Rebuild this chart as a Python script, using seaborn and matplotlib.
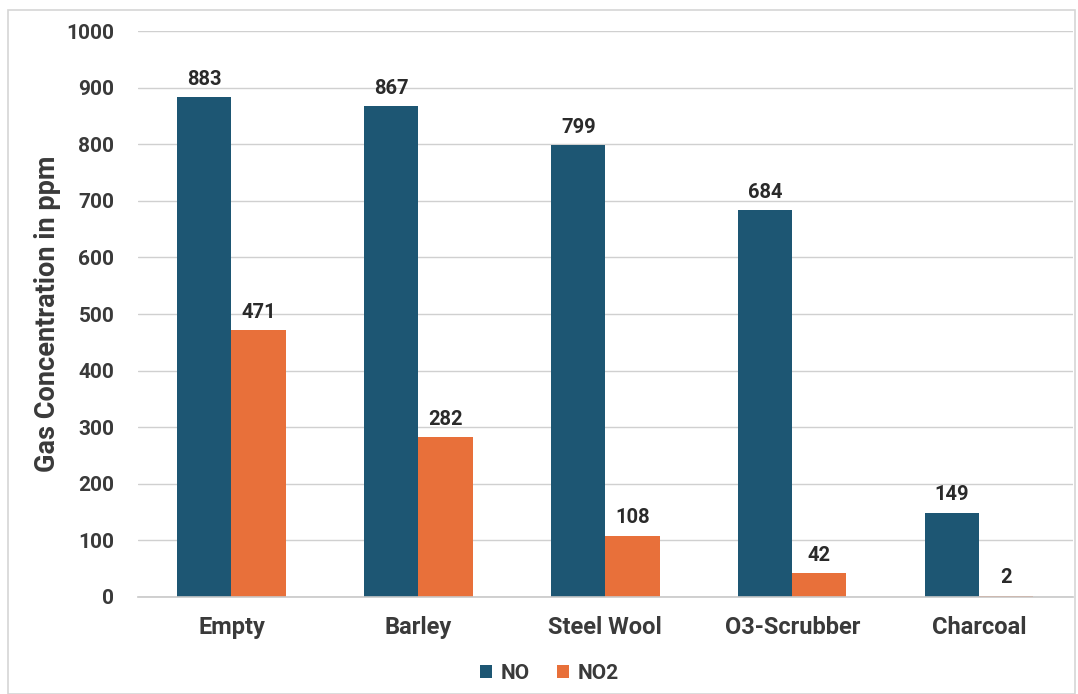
import matplotlib
matplotlib.use("Agg")
import matplotlib.pyplot as plt
import seaborn as sns
import pandas as pd
from matplotlib.patches import Rectangle

categories = ["Empty", "Barley", "Steel Wool", "O3-Scrubber", "Charcoal"]
no_values = [883, 867, 799, 684, 149]
no2_values = [471, 282, 108, 42, 2]
series_names = ["NO", "NO2"]
y_ticks = [0, 100, 200, 300, 400, 500, 600, 700, 800, 900, 1000]

df = pd.DataFrame({
    "Category": categories * 2,
    "Gas": [series_names[0]] * len(categories) + [series_names[1]] * len(categories),
    "Value": no_values + no2_values,
})

sns.set_theme(style="white")
plt.rcParams['font.family'] = ['Roboto', 'DejaVu Sans']
text_color = "#3a3a3a"

fig = plt.figure(figsize=(10.78, 6.94), dpi=100)
ax = fig.add_axes([0.128, 0.140, 0.867, 0.815])

palette = {"NO": "#1d5673", "NO2": "#e8703a"}
sns.barplot(data=df, x="Category", y="Value", hue="Gas", order=categories,
            hue_order=series_names, palette=palette, width=0.58, ax=ax,
            saturation=1, legend=True, errorbar=None, linewidth=0)

ax.set_ylim(0, 1000)
ax.set_xlim(-0.5, 4.5)
ax.set_yticks(y_ticks)
ax.set_yticklabels([str(t) for t in y_ticks], fontsize=15, fontweight="bold", color=text_color)
ax.tick_params(axis="y", length=0, pad=17)
ax.tick_params(axis="x", length=0, pad=14)
for lbl in ax.get_xticklabels():
    lbl.set_fontsize(17)
    lbl.set_fontweight("bold")
    lbl.set_color(text_color)
ax.set_xlabel("")
ax.set_ylabel("Gas Concentration in ppm", fontsize=19.5, fontweight="bold", color=text_color, labelpad=4)
ax.yaxis.grid(True, color="#d0d0d0", linewidth=1)
ax.set_axisbelow(True)
for s in ["top", "right", "left"]:
    ax.spines[s].set_visible(False)
ax.spines["bottom"].set_color("#c8c8c8")
ax.spines["bottom"].set_linewidth(1.2)

for cont in ax.containers:
    ax.bar_label(cont, labels=[f"{v:.0f}" for v in cont.datavalues], padding=6,
                 fontsize=14.5, fontweight="bold", color="#2a2a2a")

leg = ax.legend(loc="lower center", bbox_to_anchor=(0.44, -0.185), ncol=2, frameon=False,
                fontsize=15, handlelength=0.6, handleheight=0.6, handletextpad=0.4,
                columnspacing=1.3)
for t in leg.get_texts():
    t.set_fontweight("bold")
    t.set_color(text_color)

fig.patches.append(Rectangle((0.0075, 0.0), 0.99, 0.985, transform=fig.transFigure,
                             fill=False, edgecolor="#d5d5d5", linewidth=1.2))

fig.savefig("out.png", dpi=100)
